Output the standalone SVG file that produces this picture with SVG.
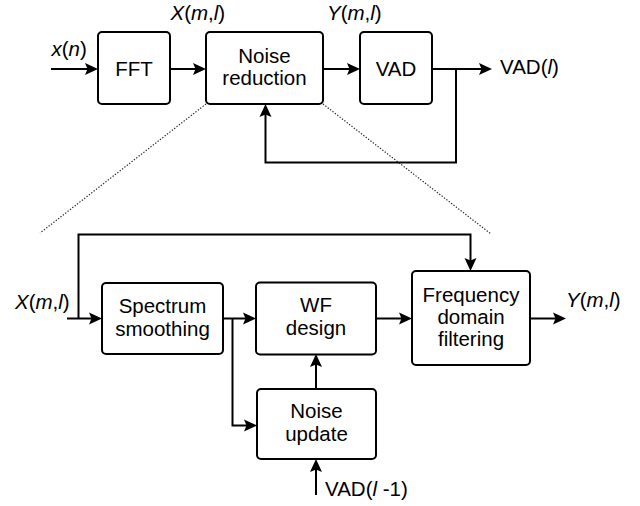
<svg xmlns="http://www.w3.org/2000/svg" width="640" height="506" viewBox="0 0 640 506">
<style>
.box{fill:#fff;stroke:#000;stroke-width:2}
.t{font-family:"Liberation Sans",Arial,sans-serif;font-size:20.5px;fill:#000}
.c{text-anchor:middle}
.i{font-style:italic}
.ln{fill:none;stroke:#000;stroke-width:2;marker-end:url(#ah)}
.dot{fill:none;stroke:#222;stroke-width:1.2;stroke-dasharray:1.3 1.7}
</style>
<defs>
<marker id="ah" markerUnits="userSpaceOnUse" markerWidth="14" markerHeight="14" refX="9" refY="6" orient="auto" overflow="visible">
<path d="M0,0 L13,6 L0,12 L2.5,6 Z" fill="#000"/>
</marker>
</defs>
<rect width="640" height="506" fill="#fff"/>

<g id="zoom-lines">
<path class="dot" d="M206,104 L40,233"/>
<path class="dot" d="M323,104 L491,234"/>
</g>

<g id="connectors">
<path class="ln" d="M51,69 H94"/>
<path class="ln" d="M170,69 H202"/>
<path class="ln" d="M323,69 H356"/>
<path class="ln" d="M432,69 H488"/>
<path class="ln" d="M456,69 V162.5 H265.5 V108"/>
<path class="ln" d="M67,318.5 H98"/>
<path class="ln" d="M78.5,318.5 V234.5 H470.5 V267"/>
<path class="ln" d="M222,318.5 H252"/>
<path class="ln" d="M232.5,318.5 V425.5 H253"/>
<path class="ln" d="M376,318.5 H408"/>
<path class="ln" d="M530,318.5 H562"/>
<path class="ln" d="M316,389 V358"/>
<path class="ln" d="M316,495 V463"/>
</g>

<g id="fft">
<rect class="box" x="98" y="32" width="72" height="72" rx="4"/>
<text class="t c" x="134" y="76">FFT</text>
</g>
<g id="noise-reduction">
<rect class="box" x="206" y="32" width="117" height="72" rx="4"/>
<text class="t c" x="264.5" y="62.7">Noise</text>
<text class="t c" x="264.5" y="85">reduction</text>
</g>
<g id="vad">
<rect class="box" x="360" y="32" width="72" height="72" rx="4"/>
<text class="t c" x="396" y="76">VAD</text>
</g>
<g id="spectrum-smoothing">
<rect class="box" x="102" y="283" width="121" height="71" rx="4"/>
<text class="t c" x="162.5" y="312.7">Spectrum</text>
<text class="t c" x="162.5" y="335.5">smoothing</text>
</g>
<g id="wf-design">
<rect class="box" x="256" y="282.5" width="120" height="72" rx="4"/>
<text class="t c" x="316" y="311.7">WF</text>
<text class="t c" x="316" y="334.5">design</text>
</g>
<g id="frequency-domain-filtering">
<rect class="box" x="412" y="271" width="118" height="94" rx="4"/>
<text class="t c" x="471" y="301.7">Frequency</text>
<text class="t c" x="471" y="324">domain</text>
<text class="t c" x="471" y="346.3">filtering</text>
</g>
<g id="noise-update">
<rect class="box" x="257" y="389" width="119" height="70" rx="4"/>
<text class="t c" x="316.5" y="418.3">Noise</text>
<text class="t c" x="316.5" y="441">update</text>
</g>

<g id="labels">
<text class="t" x="51.5" y="56"><tspan class="i">x</tspan>(<tspan class="i">n</tspan>)</text>
<text class="t" x="170.5" y="20"><tspan class="i">X</tspan>(<tspan class="i">m</tspan>,<tspan class="i">l</tspan>)</text>
<text class="t" x="327" y="20"><tspan class="i">Y</tspan>(<tspan class="i">m</tspan>,<tspan class="i">l</tspan>)</text>
<text class="t" x="500" y="73.5">VAD(<tspan class="i">l</tspan>)</text>
<text class="t" x="15" y="309"><tspan class="i">X</tspan>(<tspan class="i">m</tspan>,<tspan class="i">l</tspan>)</text>
<text class="t" x="566" y="306.5"><tspan class="i">Y</tspan>(<tspan class="i">m</tspan>,<tspan class="i">l</tspan>)</text>
<text class="t" x="325" y="495.5">VAD(<tspan class="i">l</tspan> -1)</text>
</g>
</svg>
